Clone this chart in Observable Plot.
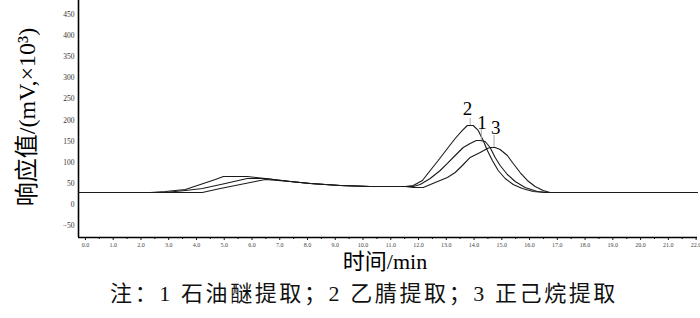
<!DOCTYPE html>
<html>
<head>
<meta charset="utf-8">
<script src="https://cdn.jsdelivr.net/npm/d3@7"></script>
<script src="https://cdn.jsdelivr.net/npm/@observablehq/plot@0.6"></script>
<style>
  html, body { margin: 0; padding: 0; background: #fff; }
  #chart { width: 700px; height: 318px; overflow: hidden; }
  #caption { width: 700px; height: 38px; text-align: center; font-family: "Liberation Serif", "Noto Sans CJK SC", serif; font-size: 22px; line-height: 28px; letter-spacing: 2.6px; color: #111; margin-left: 14px; box-sizing: border-box; white-space: nowrap;}
</style>
</head>
<body>
<div id="chart"></div>
<script>
// ---- data (time in min, response in mV×10³) ----
const seriesNames = ["1", "2", "3"];
const t1 = [-0.25, 2.88, 3.60, 4.21, 5.04, 5.83, 6.48, 7.38, 8.10, 9.18, 10.26, 11.52, 11.81, 12.06, 12.42, 12.78, 13.04, 13.32, 13.61, 13.86, 14.08, 14.22, 14.40, 14.58, 14.76, 14.94, 15.20, 15.48, 15.84, 16.28, 16.67, 18.55, 22.04];
const v1 = [28.4, 28.4, 33.2, 37.9, 49.8, 61.6, 61.6, 54.5, 49.8, 45.0, 42.7, 42.7, 42.7, 47.4, 61.6, 80.6, 97.2, 116.1, 135.1, 144.5, 151.7, 151.7, 149.3, 135.1, 111.4, 92.4, 71.1, 54.5, 40.3, 30.8, 28.4, 28.4, 28.4];
const t2 = [-0.25, 2.34, 2.88, 3.60, 4.14, 4.68, 4.97, 5.83, 6.48, 7.38, 8.10, 9.18, 10.26, 11.52, 11.81, 12.14, 12.42, 12.71, 13.04, 13.32, 13.58, 13.76, 13.97, 14.15, 14.33, 14.48, 14.66, 14.87, 15.12, 15.41, 15.74, 16.13, 16.56, 18.55, 22.04];
const v2 = [28.4, 28.4, 30.8, 35.5, 47.4, 59.2, 66.4, 66.4, 61.6, 54.5, 49.8, 45.0, 42.7, 42.7, 45.0, 56.9, 80.6, 104.3, 132.7, 156.4, 175.4, 187.2, 187.2, 175.4, 151.7, 128.0, 104.3, 80.6, 61.6, 47.4, 37.9, 30.8, 28.4, 28.4, 28.4];
const t3 = [-0.25, 2.88, 4.21, 4.86, 5.58, 6.12, 6.48, 7.38, 8.10, 9.18, 10.26, 11.52, 11.81, 12.17, 12.60, 13.04, 13.32, 13.58, 13.86, 14.22, 14.48, 14.58, 14.76, 14.94, 15.20, 15.41, 15.66, 15.92, 16.20, 16.49, 16.74, 18.55, 22.04];
const v3 = [28.4, 28.4, 28.4, 37.9, 47.4, 54.5, 59.2, 54.5, 49.8, 45.0, 42.7, 42.7, 40.3, 40.3, 52.1, 64.0, 75.8, 92.4, 111.4, 123.2, 132.7, 135.1, 135.1, 130.3, 116.1, 97.2, 75.8, 56.9, 42.7, 33.2, 28.4, 28.4, 28.4];

// peak annotations
const peakLabels = ["2", "1", "3"];
const peakLabelT = [13.76, 14.29, 14.78];
const peakLabelV = [227.5, 194.3, 182.5];
const peakLeaderT = [13.86, 14.26, 14.72];
const peakLeaderTop = [203.8, 177.7, 163.5];
const peakLeaderBottom = [187.2, 151.7, 135.1];

// axes
const xTicks = [0,1,2,3,4,5,6,7,8,9,10,11,12,13,14,15,16,17,18,19,20,21,22];
const xMinorTicks = [0.5,1.5,2.5,3.5,4.5,5.5,6.5,7.5,8.5,9.5,10.5,11.5,12.5,13.5,14.5,15.5,16.5,17.5,18.5,19.5,20.5,21.5];
const yTicks = [-50, 0, 50, 100, 150, 200, 250, 300, 350, 400, 450];
const xDomain = [-0.25, 22.05];
const yDomain = [-78.2, 483.4];
const xLabel = "时间/min";
const yLabel = "响应值/(mV,×10³)";
const caption = "注：1 石油醚提取；2 乙腈提取；3 正己烷提取";

// ---- build ----
const tsList = [t1, t2, t3];
const vsList = [v1, v2, v3];
const rows = [];
seriesNames.forEach((s, i) => tsList[i].forEach((t, j) => rows.push({series: s, t, v: vsList[i][j]})));
const peaks = peakLabels.map((l, i) => ({label: l, t: peakLabelT[i], v: peakLabelV[i], lt: peakLeaderT[i], y1: peakLeaderTop[i], y2: peakLeaderBottom[i]}));

const serif = "'Liberation Serif', 'Noto Sans CJK SC', serif";

const chart = Plot.plot({
  width: 700,
  height: 280,
  marginLeft: 78,
  marginRight: 3,
  marginTop: 0,
  marginBottom: 43,
  style: {fontFamily: serif, background: "#fff"},
  x: {domain: xDomain},
  y: {domain: yDomain},
  marks: [
    Plot.axisY({ticks: yTicks, tickSize: 0, tickPadding: 4, fontSize: 7.5, fill: "#333", label: null}),
    Plot.axisX({ticks: xTicks, tickSize: 3, tickPadding: 2, fontSize: 6, fill: "#444", stroke: "#111", label: null, tickFormat: d => d.toFixed(1)}),
    Plot.axisX({ticks: xMinorTicks, tickSize: 2, stroke: "#111", tickFormat: () => "", label: null}),
    Plot.ruleX([xDomain[0]], {stroke: "#000", strokeWidth: 1.6}),
    Plot.ruleY([yDomain[0]], {stroke: "#000", strokeWidth: 1.6}),
    Plot.line(rows, {x: "t", y: "v", z: "series", stroke: "#1a1a1a", strokeWidth: 1.1, curve: "linear"}),
    Plot.ruleX(peaks, {x: "lt", y1: "y1", y2: "y2", stroke: "#aaa", strokeWidth: 1}),
    Plot.text(peaks, {x: "t", y: "v", text: "label", fontSize: 19, fill: "#000", fontFamily: serif}),
    Plot.text([yLabel], {frameAnchor: "left", textAnchor: "middle", dx: -51, dy: -2, rotate: -90, fontSize: 24, fill: "#000", fontFamily: serif}),
    Plot.text([xLabel], {frameAnchor: "bottom", dy: 31, dx: -3, fontSize: 22, fill: "#000", fontFamily: serif})
  ]
});
const host = document.getElementById("chart");
host.appendChild(chart);
const cap = document.createElement("div");
cap.id = "caption";
cap.textContent = caption;
host.appendChild(cap);
</script>
</body>
</html>
